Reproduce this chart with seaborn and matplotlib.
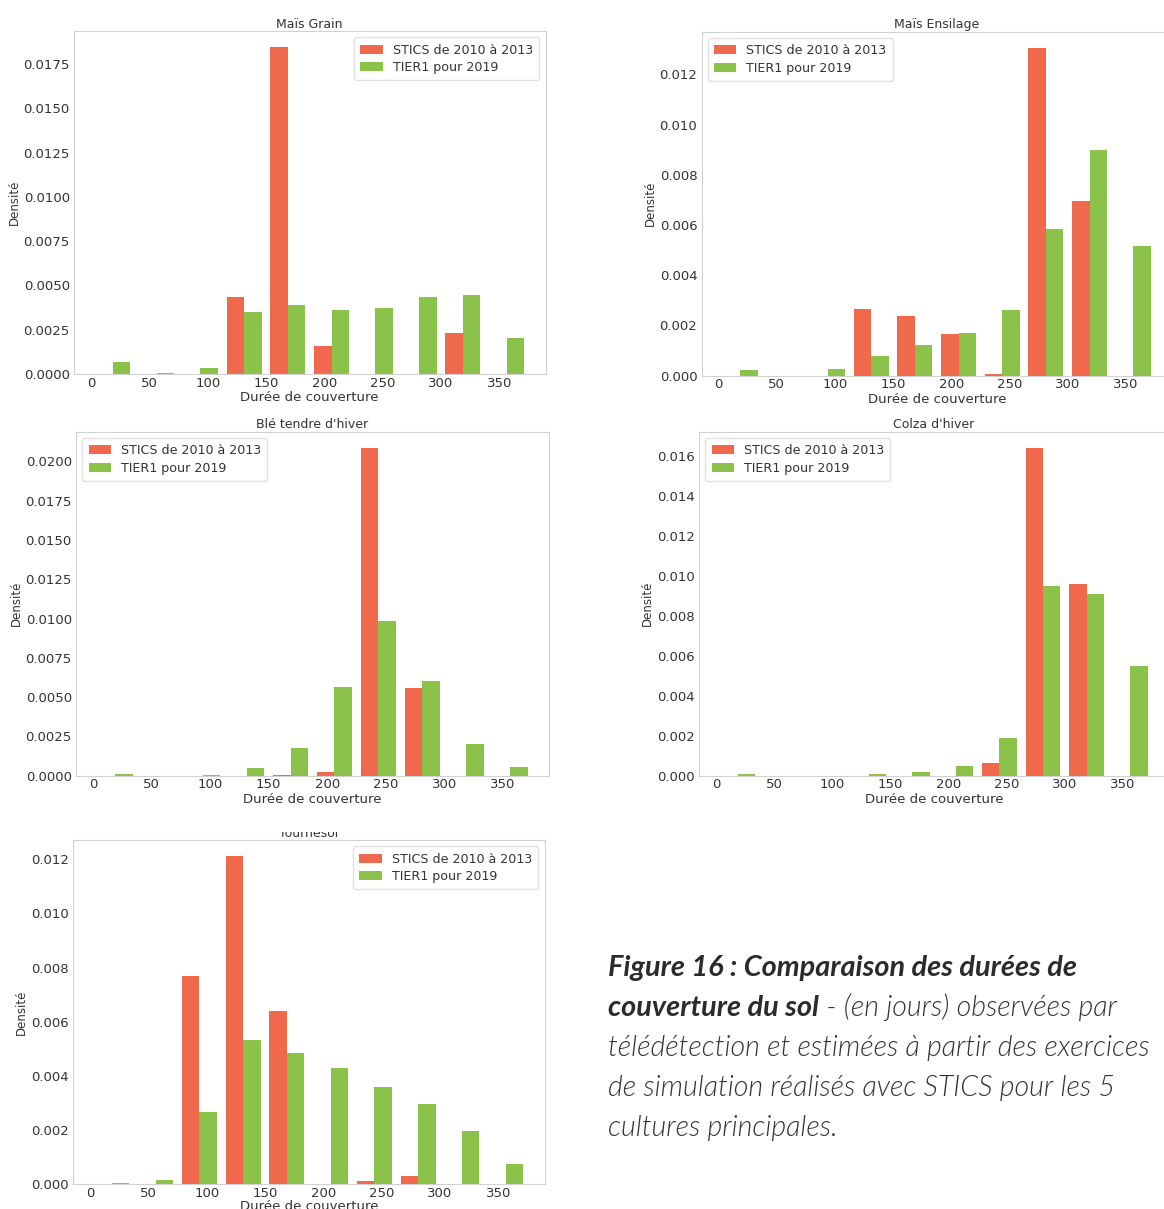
import pandas as pd
import matplotlib.pyplot as plt
import seaborn as sns
from matplotlib.transforms import Bbox, TransformedBbox

# centres des classes (10 classes de 37.5 jours entre 0 et 375)
bin_centres = [18.75, 56.25, 93.75, 131.25, 168.75, 206.25, 243.75, 281.25, 318.75, 356.25]
series = ['STICS de 2010 à 2013', 'TIER1 pour 2019']

mais_grain_stics = [0, 0, 0, 0.00432, 0.01844, 0.00158, 0, 0, 0.00229, 0]
mais_grain_tier1 = [0.00066, 0.00005, 0.00032, 0.00351, 0.0039, 0.00363, 0.0037, 0.00436, 0.00445, 0.00205]

mais_ens_stics = [0, 0, 0, 0.00264, 0.00239, 0.00168, 0.00005, 0.01305, 0.00694, 0]
mais_ens_tier1 = [0.00024, 0, 0.00027, 0.00077, 0.00121, 0.00171, 0.00263, 0.00584, 0.00898, 0.00517]

ble_stics = [0, 0, 0, 0, 0.00006, 0.00021, 0.02085, 0.00555, 0, 0]
ble_tier1 = [0.00013, 0, 0.00003, 0.00049, 0.00178, 0.00567, 0.00982, 0.00601, 0.00203, 0.00055]

colza_stics = [0, 0, 0, 0, 0, 0, 0.00062, 0.0164, 0.0096, 0]
colza_tier1 = [0.00008, 0, 0, 0.00008, 0.00017, 0.00047, 0.00187, 0.00948, 0.0091, 0.0055]

tournesol_stics = [0, 0, 0.00768, 0.01211, 0.00641, 0, 0.00012, 0.00028, 0, 0]
tournesol_tier1 = [0.00002, 0.00016, 0.00266, 0.00531, 0.00483, 0.0043, 0.0036, 0.00296, 0.00197, 0.00073]

red = '#F0694D'
green = '#8BC34A'

sns.set_style('white', {'axes.edgecolor': '.82', 'text.color': '.2',
                        'axes.labelcolor': '.2', 'xtick.color': '.2', 'ytick.color': '.2'})
plt.rcParams['font.family'] = ['DejaVu Sans']

W, H = 1164, 1209
fig = plt.figure(figsize=(W / 100, H / 100), dpi=100)


def add_axes(left, top, right, bottom):
    # positions en pixels (origine en haut à gauche)
    return fig.add_axes([left / W, (H - bottom) / H, (right - left) / W, (bottom - top) / H])


panels = [
    ('Maïs Grain', mais_grain_stics, mais_grain_tier1, (74, 31, 545.5, 374), 'upper right'),
    ('Maïs Ensilage', mais_ens_stics, mais_ens_tier1, (701.5, 31.7, 1172, 375.7), 'upper left'),
    ("Blé tendre d'hiver", ble_stics, ble_tier1, (76, 431.7, 549, 775.7), 'upper left'),
    ("Colza d'hiver", colza_stics, colza_tier1, (699, 431.7, 1169, 775.7), 'upper left'),
    ('Tournesol', tournesol_stics, tournesol_tier1, (73, 840, 544.6, 1184), 'upper right'),
]

for title, stics, tier1, box, loc in panels:
    ax = add_axes(*box)
    df = pd.DataFrame({
        'Durée': bin_centres + bin_centres,
        'Densité': stics + tier1,
        'Série': [series[0]] * len(stics) + [series[1]] * len(tier1),
    })
    sns.barplot(data=df, x='Durée', y='Densité', hue='Série', native_scale=True,
                width=0.8, dodge=True, palette=[red, green], saturation=1,
                errorbar=None, linewidth=0, ax=ax)
    ax.set_xticks(range(0, 351, 50))
    t = ax.set_title(title, fontsize=9, pad=2.5)
    ax.set_xlabel('Durée de couverture', fontsize=9.5, labelpad=1)
    ax.set_ylabel('Densité', fontsize=8.5, labelpad=2)
    ax.tick_params(labelsize=9.5, length=0)
    ax.tick_params(axis='x', pad=2)
    ax.tick_params(axis='y', pad=3)
    sns.move_legend(ax, loc, title=None, fontsize=9.1, frameon=True,
                    borderpad=0.5, handlelength=1.75, labelspacing=0.35)
    ax.get_legend().get_frame().set_edgecolor('.85')
    if title == 'Tournesol':
        # le titre est coupé en haut dans la figure d'origine
        t.set_clip_box(TransformedBbox(Bbox([[0, 0], [1, (H - 832) / H]]), fig.transFigure))
        t.set_clip_on(True)
        ax.xaxis.labelpad = 0

# légende de la figure
cap_x = 608 / W
base = [976, 1016, 1056, 1096, 1136]
fs_bold = 20.8
fs_light = 20.6
col = '#2b2b2b'
fig.text(cap_x, (H - base[0]) / H, 'Figure 16 : Comparaison des durées de',
         fontsize=fs_bold, family='Lato', style='italic', weight='bold', color=col, va='baseline')
t1 = fig.text(cap_x, (H - base[1]) / H, 'couverture du sol',
              fontsize=fs_bold, family='Lato', style='italic', weight='bold', color=col, va='baseline')
fig.add_artist(plt.Annotation(' - (en jours) observées par', xy=(1, (H - base[1]) / H),
                              xycoords=(t1, 'figure fraction'), fontsize=fs_light, family='Lato',
                              style='italic', weight=300, color='#333333',
                              va='baseline', ha='left'))
for i, line in enumerate(['télédétection et estimées à partir des exercices',
                          'de simulation réalisés avec STICS pour les 5',
                          'cultures principales.']):
    fig.text(cap_x, (H - base[i + 2]) / H, line, fontsize=fs_light, family='Lato',
             style='italic', weight=300, color='#333333', va='baseline')

fig.savefig('out.png', dpi=100)
plt.close()
